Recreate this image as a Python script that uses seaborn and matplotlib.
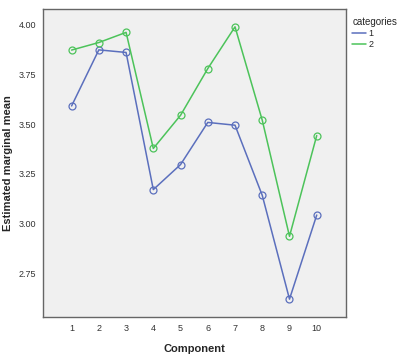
import pandas as pd
import seaborn as sns
import matplotlib.pyplot as plt

# Estimated marginal means
components = [1, 2, 3, 4, 5, 6, 7, 8, 9, 10]
cat1 = [3.592, 3.874, 3.861, 3.171, 3.297, 3.509, 3.495, 3.142, 2.620, 3.043]
cat2 = [3.873, 3.911, 3.962, 3.378, 3.545, 3.780, 3.990, 3.520, 2.936, 3.443]
y_ticks = [2.75, 3.00, 3.25, 3.50, 3.75, 4.00]

df = pd.DataFrame({
    'Component': components * 2,
    'mean': cat1 + cat2,
    'categories': ['1'] * len(cat1) + ['2'] * len(cat2),
})

sns.set_style('white')
plt.rcParams['font.family'] = ['Liberation Sans', 'DejaVu Sans']

fig = plt.figure(figsize=(4.0, 3.57), dpi=100)
ax = fig.add_axes([0.1075, 0.112, 0.864 - 0.1075, 0.975 - 0.112])
ax.set_facecolor('#f0f0f0')

palette = {'1': '#5b6fbd', '2': '#4cc35a'}
sns.lineplot(data=df, x='Component', y='mean', hue='categories', palette=palette,
             marker='o', markersize=5, linewidth=1.1, ax=ax)

# open circles in the line colour
for ln in ax.get_lines():
    ln.set_markerfacecolor('none')
    ln.set_markeredgecolor(ln.get_color())
    ln.set_markeredgewidth(0.9)

ax.set_xlim(-0.05, 11.06)
ax.set_ylim(2.53, 4.08)
ax.set_xticks(components)
ax.set_yticks(y_ticks)
ax.set_yticklabels([f'{v:.2f}' for v in y_ticks])
ax.tick_params(axis='both', direction='out', length=3, width=1, colors='#444444',
               labelsize=6.5, labelcolor='#333333', pad=2)

for s in ax.spines.values():
    s.set_color('#666666')
    s.set_linewidth(1.0)

ax.set_xlabel('Component', fontsize=8, fontweight='bold', labelpad=8)
ax.set_ylabel('Estimated marginal mean', fontsize=8, fontweight='bold', labelpad=4)

leg = ax.legend(title='categories', loc='upper left', bbox_to_anchor=(1.01, 0.985),
                frameon=False, fontsize=6.5, title_fontsize=7, handlelength=1.5,
                handletextpad=0.3, borderaxespad=0.0, labelspacing=0.2)
leg._legend_box.align = 'left'
for h in leg.get_lines():
    h.set_marker('')

plt.savefig('out.png', dpi=100)
plt.close()
